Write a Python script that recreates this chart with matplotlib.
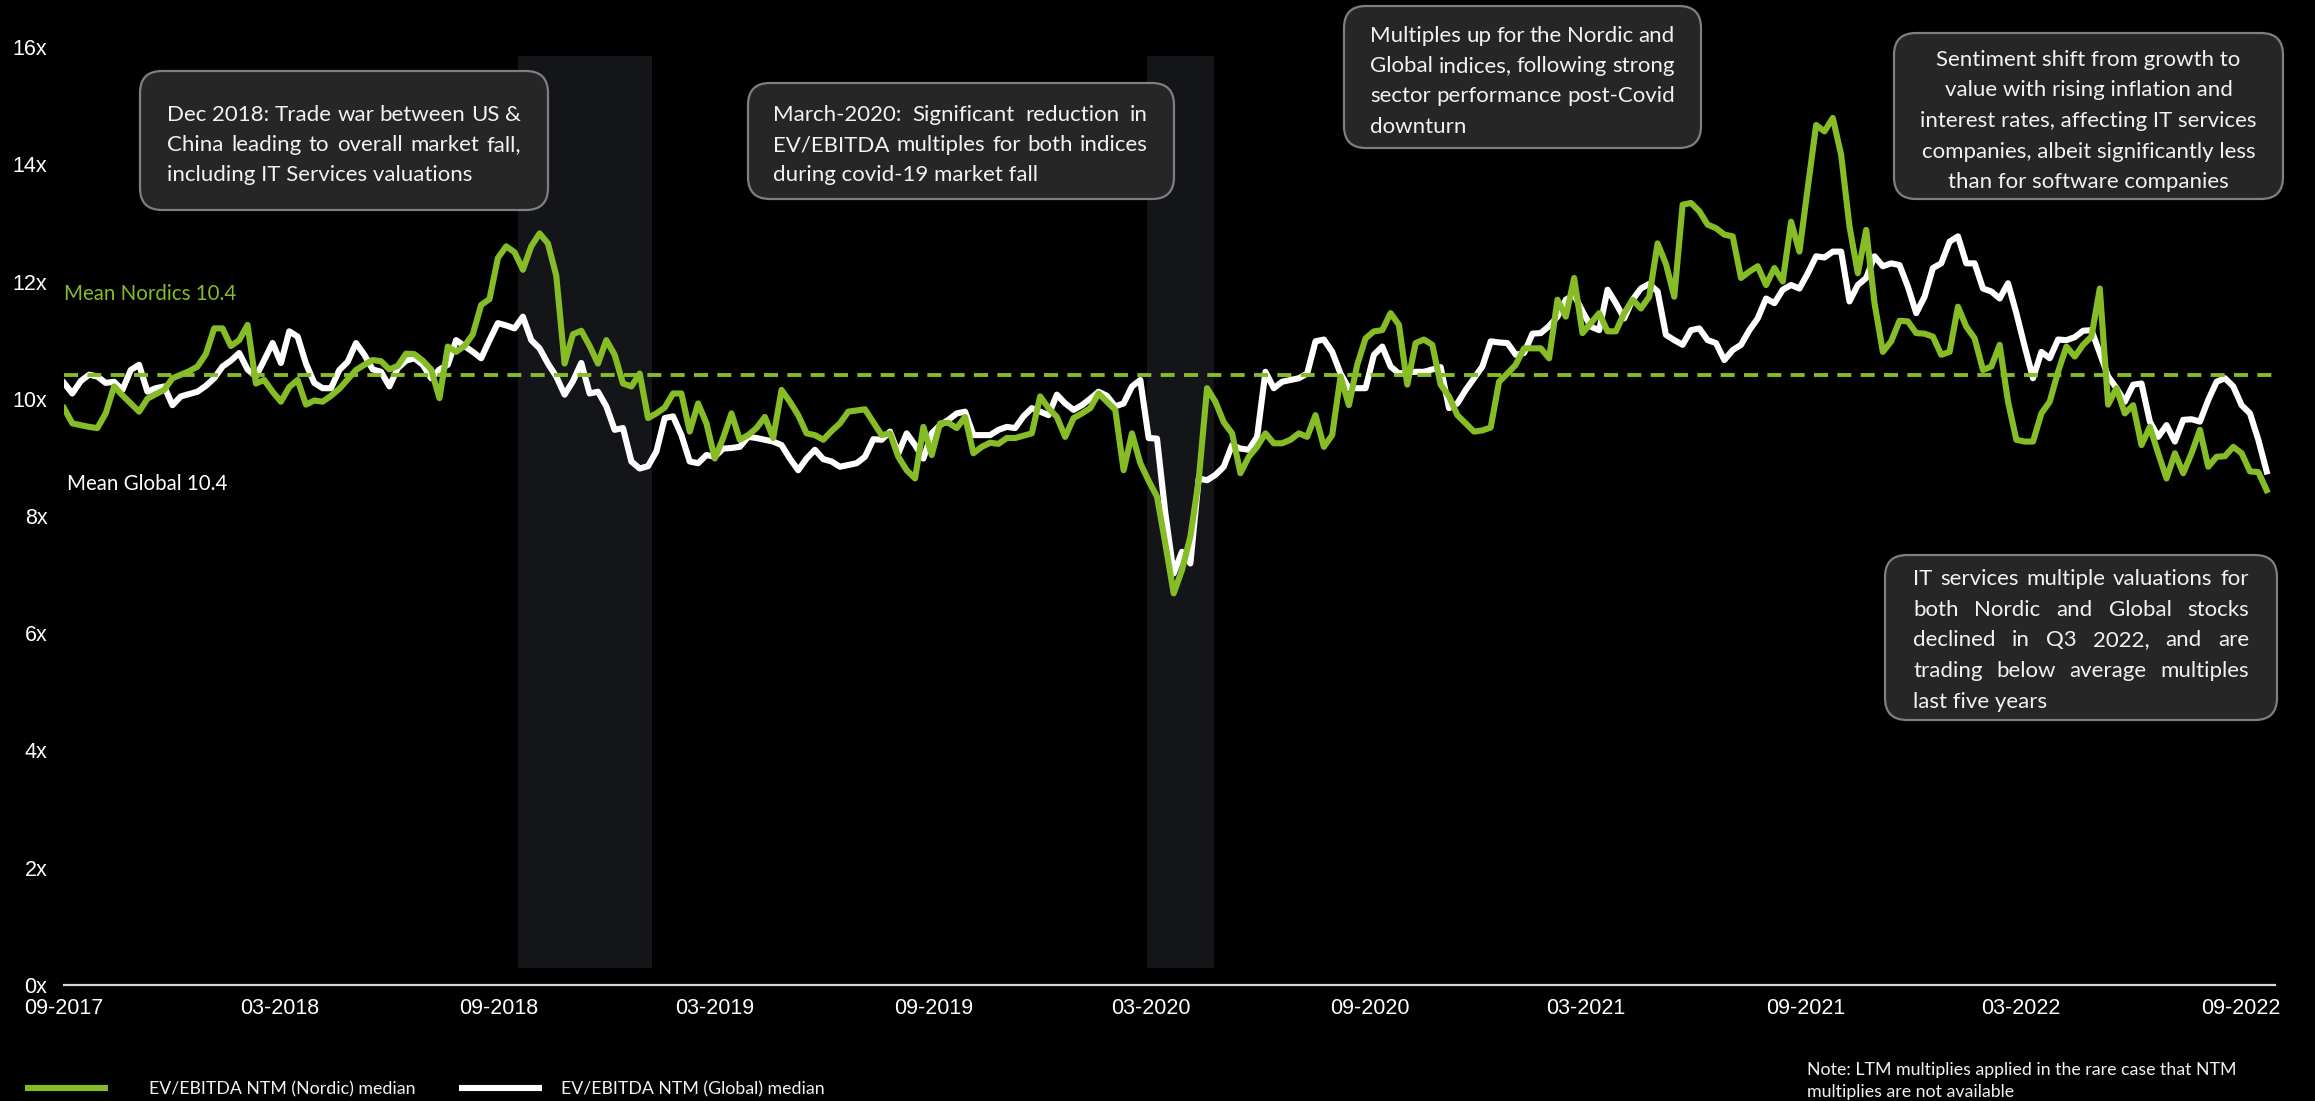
import pandas as pd
import matplotlib
matplotlib.use("Agg")
import matplotlib.pyplot as plt
from matplotlib.patches import FancyBboxPatch
from matplotlib.lines import Line2D
from matplotlib.transforms import IdentityTransform

# ---- data (weekly medians) ----
start_date = "2017-09-01"

nordic = [
    9.84, 9.58, 9.55, 9.52, 9.50, 9.75, 10.21, 10.06, 9.92, 9.78,
    10.0, 10.08, 10.15, 10.35, 10.41, 10.47, 10.55, 10.76, 11.2, 11.2,
    10.9, 11.0, 11.26, 10.26, 10.32, 10.12, 9.95, 10.2, 10.32, 9.9,
    9.97, 9.95, 10.05, 10.17, 10.33, 10.49, 10.58, 10.66, 10.64, 10.5,
    10.56, 10.77, 10.76, 10.65, 10.5, 10.01, 10.89, 10.8, 10.9, 11.1,
    11.6, 11.7, 12.4, 12.6, 12.5, 12.2, 12.6, 12.82, 12.65, 12.1,
    10.6, 11.1, 11.16, 10.9, 10.6, 11.0, 10.75, 10.26, 10.21, 10.43,
    9.67, 9.75, 9.85, 10.09, 10.09, 9.44, 9.92, 9.58, 8.98, 9.33,
    9.75, 9.30, 9.38, 9.5, 9.69, 9.33, 10.15, 9.95, 9.72, 9.41,
    9.38, 9.30, 9.45, 9.58, 9.78, 9.80, 9.82, 9.6, 9.38, 9.41,
    9.01, 8.78, 8.64, 9.52, 9.04, 9.58, 9.59, 9.50, 9.69, 9.07,
    9.18, 9.25, 9.23, 9.33, 9.33, 9.37, 9.41, 10.04, 9.84, 9.69,
    9.35, 9.67, 9.75, 9.84, 10.09, 9.95, 9.81, 8.78, 9.41, 8.90,
    8.6, 8.33, 7.53, 6.68, 7.08, 7.65, 8.61, 10.18, 9.95, 9.6,
    9.41, 8.73, 9.01, 9.18, 9.41, 9.24, 9.24, 9.30, 9.41, 9.35,
    9.72, 9.18, 9.38, 10.38, 9.89, 10.58, 11.03, 11.15, 11.17, 11.46,
    11.26, 10.24, 10.95, 11.01, 10.92, 10.24, 10.04, 9.72, 9.58, 9.44,
    9.46, 9.51, 10.29, 10.43, 10.58, 10.86, 10.86, 10.86, 10.69, 11.69,
    11.40, 12.06, 11.12, 11.29, 11.46, 11.15, 11.15, 11.46, 11.69, 11.54,
    11.74, 12.65, 12.3, 11.74, 13.31, 13.34, 13.2, 12.97, 12.91, 12.80,
    12.77, 12.06, 12.17, 12.26, 11.94, 12.23, 12.0, 13.02, 12.51, 13.6,
    14.67, 14.56, 14.79, 14.16, 12.94, 12.14, 12.88, 11.63, 10.80, 10.98,
    11.33, 11.32, 11.12, 11.11, 11.06, 10.75, 10.80, 11.57, 11.23, 11.03,
    10.49, 10.55, 10.92, 9.95, 9.30, 9.27, 9.27, 9.75, 9.95, 10.46,
    10.89, 10.72, 10.92, 11.06, 11.88, 9.9, 10.18, 9.75, 9.89, 9.21,
    9.52, 9.07, 8.64, 9.07, 8.73, 9.07, 9.47, 8.84, 9.01, 9.02,
    9.18, 9.07, 8.76, 8.75, 8.44,
]

global_med = [
    10.27, 10.09, 10.3, 10.41, 10.38, 10.27, 10.29, 10.15, 10.49, 10.58,
    10.12, 10.18, 10.21, 9.89, 10.04, 10.08, 10.12, 10.22, 10.35, 10.55,
    10.65, 10.78, 10.5, 10.38, 10.66, 10.95, 10.61, 11.15, 11.06, 10.6,
    10.27, 10.18, 10.18, 10.49, 10.63, 10.95, 10.75, 10.5, 10.46, 10.21,
    10.52, 10.65, 10.69, 10.58, 10.35, 10.5, 10.58, 11.0, 10.9, 10.8,
    10.69, 11.0, 11.29, 11.25, 11.2, 11.4, 11.0, 10.86, 10.6, 10.38,
    10.07, 10.3, 10.61, 10.09, 10.12, 9.87, 9.47, 9.50, 8.93, 8.81,
    8.85, 9.1, 9.67, 9.70, 9.38, 8.93, 8.90, 9.04, 9.01, 9.15,
    9.16, 9.18, 9.35, 9.33, 9.3, 9.27, 9.21, 8.98, 8.78, 8.98,
    9.13, 8.97, 8.93, 8.84, 8.87, 8.90, 9.01, 9.31, 9.30, 9.44,
    9.07, 9.41, 9.21, 8.98, 9.41, 9.55, 9.64, 9.75, 9.78, 9.38,
    9.38, 9.38, 9.47, 9.52, 9.50, 9.70, 9.84, 9.78, 9.72, 10.07,
    9.92, 9.81, 9.89, 10.0, 10.12, 10.05, 9.87, 9.92, 10.21, 10.32,
    9.33, 9.32, 8.05, 7.02, 7.39, 7.19, 8.64, 8.61, 8.70, 8.84,
    9.21, 9.15, 9.13, 9.35, 10.46, 10.18, 10.29, 10.32, 10.35, 10.43,
    10.98, 11.01, 10.80, 10.43, 10.18, 10.18, 10.18, 10.75, 10.89, 10.55,
    10.43, 10.45, 10.46, 10.46, 10.5, 10.54, 9.84, 9.92, 10.15, 10.35,
    10.55, 10.98, 10.96, 10.95, 10.75, 10.78, 11.11, 11.12, 11.24, 11.40,
    11.69, 11.77, 11.49, 11.23, 11.17, 11.86, 11.63, 11.37, 11.69, 11.88,
    11.96, 11.83, 11.09, 11.0, 10.92, 11.17, 11.2, 11.0, 10.95, 10.66,
    10.83, 10.92, 11.17, 11.37, 11.71, 11.63, 11.86, 11.94, 11.88, 12.14,
    12.43, 12.41, 12.51, 12.51, 11.66, 11.94, 12.06, 12.43, 12.26, 12.31,
    12.28, 11.91, 11.46, 11.74, 12.23, 12.31, 12.68, 12.77, 12.31, 12.31,
    11.88, 11.83, 11.71, 11.97, 11.46, 10.89, 10.35, 10.80, 10.69, 11.01,
    11.0, 11.05, 11.16, 11.17, 10.78, 10.38, 10.18, 9.95, 10.24, 10.26,
    9.61, 9.35, 9.55, 9.27, 9.64, 9.65, 9.61, 9.98, 10.29, 10.35,
    10.21, 9.89, 9.75, 9.3, 8.76,
]

mean_nordic = 10.4
mean_global = 10.4

shaded_periods = [("2018-09-17", "2019-01-07"), ("2020-02-27", "2020-04-23")]

y_ticks = [0, 2, 4, 6, 8, 10, 12, 14, 16]
tick_dates = pd.date_range("2017-09-01", "2022-09-01", freq="6MS")

legend_labels = ["EV/EBITDA NTM (Nordic) median", "EV/EBITDA NTM (Global) median"]
note_lines = ["Note: LTM multiplies applied in the rare case that NTM",
              "multiplies are not available"]

# ---- styling ----
W, H = 2315, 1101
GREEN = "#86BC25"
BOX_FC = "#262626"
BOX_EC = "#7f7f7f"
TXT = "#f2f2f2"
FONT = ["Lato", "DejaVu Sans"]
TICK_FONT = ["Liberation Sans", "DejaVu Sans"]
BOX_FS = 16

fig = plt.figure(figsize=(W / 100, H / 100), dpi=100, facecolor="black")
ax = fig.add_axes([64 / W, 1 - 985 / H, (2275 - 64) / W, (985 - 47) / H])
ax.set_facecolor("black")

dates_n = pd.date_range(start_date, periods=len(nordic), freq="7D")
dates_g = pd.date_range(start_date, periods=len(global_med), freq="7D")

for s, e in shaded_periods:
    ax.axvspan(pd.Timestamp(s), pd.Timestamp(e), ymin=0.018, ymax=0.99,
               color="#141518", lw=0, zorder=0)

ax.plot(dates_g, global_med, color="white", lw=4.4, zorder=3)
ax.plot(dates_n, nordic, color=GREEN, lw=4.4, zorder=4)
ax.axhline(mean_nordic, color=GREEN, lw=2.8, ls=(0, (3.6, 2.4)), zorder=5)

ax.set_xlim(pd.Timestamp("2017-09-01"), pd.Timestamp("2022-09-30"))
ax.set_ylim(0, 16)
ax.set_yticks(y_ticks)
ax.set_yticklabels([f"{v}x" for v in y_ticks])
ax.set_xticks(tick_dates)
ax.set_xticklabels([d.strftime("%m-%Y") for d in tick_dates])
for lab in ax.get_xticklabels() + ax.get_yticklabels():
    lab.set_family(TICK_FONT)
for sp in ["top", "right", "left"]:
    ax.spines[sp].set_visible(False)
ax.spines["bottom"].set_color("#d9d9d9")
ax.spines["bottom"].set_linewidth(1.6)
ax.tick_params(length=0, colors="white", labelsize=15.5)
ax.tick_params(axis="y", pad=12)
ax.tick_params(axis="x", pad=9)

ytr = ax.get_yaxis_transform()
ax.text(0.0, 11.79, f"Mean Nordics {mean_nordic}", transform=ytr, color=GREEN,
        fontsize=14.8, family=FONT, ha="left", va="center")
ax.text(0.0015, 8.54, f"Mean Global {mean_global}", transform=ytr, color="white",
        fontsize=14.8, family=FONT, ha="left", va="center")

# ---- annotation boxes (pixel layout, origin top-left) ----
ident = IdentityTransform()
renderer = fig.canvas.get_renderer()


def word_width(s, fs):
    t = fig.text(0, 0, s, fontsize=fs, family=FONT, transform=ident)
    w = t.get_window_extent(renderer).width
    t.remove()
    return w


def draw_box(x0, y0, x1, y1):
    p = FancyBboxPatch((x0, H - y1), x1 - x0, y1 - y0,
                       boxstyle="round,pad=0,rounding_size=22",
                       transform=ident, fc=BOX_FC, ec=BOX_EC, lw=1.6, zorder=10)
    fig.add_artist(p)


def paragraph(lines, x0, x1, y_first, step, align, fs=BOX_FS):
    for i, line in enumerate(lines):
        y = H - (y_first + i * step)
        kw = dict(fontsize=fs, family=FONT, color=TXT, transform=ident,
                  va="center_baseline", zorder=11)
        words = line.split()
        if align == "justify" and i < len(lines) - 1 and len(words) > 1:
            widths = [word_width(w, fs) for w in words]
            gap = (x1 - x0 - sum(widths)) / (len(words) - 1)
            x = x0
            for w, ww in zip(words, widths):
                fig.text(x, y, w, ha="left", **kw)
                x += ww + gap
        elif align == "center":
            fig.text((x0 + x1) / 2, y, line, ha="center", **kw)
        else:
            fig.text(x0, y, line, ha="left", **kw)


draw_box(140, 71, 548, 210)
paragraph(["Dec 2018: Trade war between US &",
           "China leading to overall market fall,",
           "including IT Services valuations"],
          167, 521, 113, 30, "justify")

draw_box(748, 83, 1174, 199)
paragraph(["March-2020: Significant reduction in",
           "EV/EBITDA multiples for both indices",
           "during covid-19 market fall"],
          773, 1148, 113, 30, "justify")

draw_box(1344, 6, 1701, 148)
paragraph(["Multiples up for the Nordic and",
           "Global indices, following strong",
           "sector performance post-Covid",
           "downturn"],
          1370, 1675, 33.5, 30.5, "justify")

draw_box(1894, 33, 2283, 199)
paragraph(["Sentiment shift from growth to",
           "value with rising inflation and",
           "interest rates, affecting IT services",
           "companies, albeit significantly less",
           "than for software companies"],
          1894, 2283, 57.5, 30.7, "center")

draw_box(1885, 555, 2277, 720)
paragraph(["IT services multiple valuations for",
           "both Nordic and Global stocks",
           "declined in Q3 2022, and are",
           "trading below average multiples",
           "last five years"],
          1913, 2249, 577, 30.7, "justify")

# ---- legend and note ----
leg_y = H - 1088
for (lx0, lx1, tx), col, lab in zip([(25, 108, 149), (459, 542, 561)],
                                    [GREEN, "white"], legend_labels):
    fig.add_artist(Line2D([lx0, lx1], [leg_y, leg_y], transform=ident,
                          color=col, lw=4.4, solid_capstyle="butt"))
    fig.text(tx, leg_y, lab, transform=ident, color=TXT, fontsize=12.8,
             family=FONT, ha="left", va="center_baseline")

for i, line in enumerate(note_lines):
    fig.text(1807, H - (1068 + i * 22), line, transform=ident, color=TXT,
             fontsize=12.8, family=FONT, ha="left", va="center_baseline")

fig.savefig("out.png", dpi=100, facecolor="black")
